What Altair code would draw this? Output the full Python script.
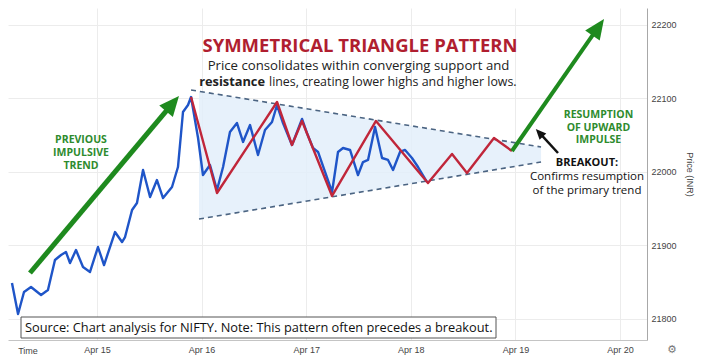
import altair as alt
import pandas as pd

# ---------------- data (x = day of April, fractional; y = price in INR) -------------
blue_day = [14.187, 14.245, 14.302, 14.369, 14.465, 14.531, 14.598, 14.656, 14.703, 14.742,
            14.799, 14.866, 14.933, 15.009, 15.067, 15.172, 15.239, 15.268, 15.335, 15.382,
            15.440, 15.507, 15.573, 15.631, 15.717, 15.774, 15.822, 15.870, 15.899, 15.966,
            16.013, 16.080, 16.147, 16.205, 16.271, 16.338, 16.396, 16.463, 16.539, 16.606,
            16.673, 16.721, 16.778, 16.864, 16.960, 17.007, 17.065, 17.113, 17.247, 17.304,
            17.352, 17.419, 17.495, 17.543, 17.591, 17.658, 17.725, 17.782, 17.830, 17.897,
            17.945, 18.011, 18.069, 18.155]
blue_price = [21848.6, 21806.4, 21836.4, 21843.2, 21832.3, 21839.1, 21879.9, 21886.7, 21890.8, 21875.8,
              21893.5, 21870.4, 21863.6, 21897.6, 21873.1, 21918.0, 21904.4, 21911.2, 21948.0, 21957.5,
              22002.5, 21965.7, 21988.8, 21964.3, 21979.3, 22006.5, 22081.4, 22090.9, 22101.8, 22046.0,
              21995.6, 22009.3, 21975.2, 22006.5, 22054.2, 22066.4, 22040.6, 22063.7, 22022.9, 22056.9,
              22067.8, 22090.9, 22066.4, 22036.5, 22071.9, 22052.8, 22032.4, 22027.0, 21972.5, 22027.0,
              22032.4, 22029.7, 21995.6, 22013.3, 22016.1, 22061.0, 22018.8, 22016.1, 22002.5, 22027.0,
              22029.7, 22018.8, 22006.5, 21986.1]

red_day = [15.899, 16.147, 16.721, 16.864, 16.960, 17.247, 17.667, 18.164, 18.394, 18.537, 18.795, 18.967]
red_price = [22101.8, 21971.1, 22095.0, 22036.5, 22069.2, 21967.1, 22069.2, 21984.8, 22024.2, 21998.4, 22046.0, 22028.3]

# converging trend lines (resistance / support)
res_day = [15.899, 19.245]
res_price = [22111.4, 22033.8]
sup_day = [15.975, 19.245]
sup_price = [21935.7, 22013.3]
# shaded triangle
tri_day = [15.975, 19.245]
tri_top = [22109.6, 22033.8]
tri_bottom = [21935.7, 22013.3]

# arrows: shaft start/end and head angle
left_arrow_day = [14.359, 15.711]
left_arrow_price = [21862.2, 22091.0]
right_arrow_day = [18.967, 19.782]
right_arrow_price = [22028.3, 22194.8]
black_arrow_day = [19.407, 19.235]
black_arrow_price = [22025.6, 22052.3]

x_ticks = [15, 16, 17, 18, 19, 20]
y_ticks = [21800, 21900, 22000, 22100, 22200]

# ---------------- styling -------------
W, H = 639, 332
XDOM = [14.149, 20.258]
YDOM = [21771, 22223]
GREEN = "#1e8a1e"
TXT_GREEN = "#2e8b2e"
RED = "#c0263a"
BLUE = "#1f55c8"
FONT = "Open Sans"
HEAD = "M0,-1L0.75,0.7L-0.75,0.7Z"

xs = alt.Scale(domain=XDOM, nice=False, zero=False)
ys = alt.Scale(domain=YDOM, nice=False, zero=False)


def xy(df_x, df_y):
    return pd.DataFrame({"d": df_x, "p": df_y})


X = alt.X("d:Q", scale=xs, title=None,
          axis=alt.Axis(values=x_ticks, labelExpr="'Apr ' + datum.value", grid=True,
                        gridColor="#ececec", domainColor="#c4c4c4", ticks=False,
                        labelPadding=5, labelFontSize=9, labelFont="Liberation Sans",
                        labelColor="#444444", labelFlush=False))
Y = alt.Y("p:Q", scale=ys, title="Price (INR)",
          axis=alt.Axis(orient="right", values=y_ticks, format="d", grid=True,
                        gridColor="#ececec", domainColor="#a8a8a8", ticks=False,
                        labelPadding=4, labelFontSize=9, labelFont="Liberation Sans",
                        labelColor="#444444", titleFontSize=9, titleFont="Liberation Sans",
                        titleFontWeight="normal", titleColor="#444444", titlePadding=8))

shade = alt.Chart(pd.DataFrame({"d": tri_day, "p": tri_top, "p2": tri_bottom})).mark_area(
    color="#e3eefa", opacity=0.85).encode(x=X, y=Y, y2="p2:Q")

res = alt.Chart(xy(res_day, res_price)).mark_line(
    color="#4b6482", strokeWidth=1.6, strokeDash=[5, 4]).encode(x="d:Q", y="p:Q")
sup = alt.Chart(xy(sup_day, sup_price)).mark_line(
    color="#4b6482", strokeWidth=1.6, strokeDash=[5, 4]).encode(x="d:Q", y="p:Q")

blue = alt.Chart(xy(blue_day, blue_price)).mark_line(
    color=BLUE, strokeWidth=2.4, strokeJoin="round").encode(x="d:Q", y="p:Q")
red = alt.Chart(xy(red_day, red_price)).mark_line(
    color=RED, strokeWidth=2.4, strokeJoin="round").encode(x="d:Q", y="p:Q")


def arrow(days, prices, color, width, angle, size):
    df = xy(days, prices)
    shaft = alt.Chart(df).mark_line(color=color, strokeWidth=width, strokeCap="butt").encode(
        x="d:Q", y="p:Q")
    head = alt.Chart(df.iloc[[1]]).mark_point(
        shape=HEAD, filled=True, color=color, opacity=1, size=size, angle=angle,
        strokeWidth=0).encode(x="d:Q", y="p:Q")
    return [shaft, head]


layers = [shade, res, sup, blue, red]
layers += arrow(left_arrow_day, left_arrow_price, GREEN, 5, 40, 560)
layers += arrow(right_arrow_day, right_arrow_price, GREEN, 4, 35, 560)
layers += arrow(black_arrow_day, black_arrow_price, "#111111", 2.5, 317, 150)

one = pd.DataFrame({"k": [0]})

# source box
layers.append(alt.Chart(one).mark_rect(fill="white", stroke="#555555", strokeWidth=1).encode(
    x=alt.value(13), x2=alt.value(488), y=alt.value(309), y2=alt.value(330)))

# text annotations: (text, x, y, size, weight, color, align)
texts = [
    ("SYMMETRICAL TRIANGLE PATTERN", 352, 38, 18.5, "bold", "#b01e30", "center"),
    ("Price consolidates within converging support and", 350.5, 57.5, 13.2, "normal", "#222222", "center"),
    ("resistance", 257, 74, 12.8, "bold", "#222222", "right"),
    ("lines, creating lower highs and higher lows.", 261, 74, 12.4, "normal", "#222222", "left"),
    ("PREVIOUS", 73, 132, 10.5, "bold", TXT_GREEN, "center"),
    ("IMPULSIVE", 73, 145, 10.5, "bold", TXT_GREEN, "center"),
    ("TREND", 73, 157.5, 10.5, "bold", TXT_GREEN, "center"),
    ("RESUMPTION", 590.5, 107, 10.5, "bold", TXT_GREEN, "center"),
    ("OF UPWARD", 590.5, 119.5, 10.5, "bold", TXT_GREEN, "center"),
    ("IMPULSE", 590.5, 132, 10.5, "bold", TXT_GREEN, "center"),
    ("BREAKOUT:", 579, 154.5, 11, "bold", "#111111", "center"),
    ("Confirms resumption", 579, 168.5, 11.5, "normal", "#111111", "center"),
    ("of the primary trend", 579, 182.5, 11.5, "normal", "#111111", "center"),
    ("Source: Chart analysis for NIFTY. Note: This pattern often precedes a breakout.",
     17, 319.5, 12.8, "normal", "#111111", "left"),
    ("Time", 20, 343, 9, "normal", "#444444", "center"),
    ("\u2699", 664, 342, 11, "normal", "#777777", "center"),
]
for t, x, y, s, w, c, a in texts:
    layers.append(alt.Chart(one).mark_text(
        text=t, fontSize=s, fontWeight=w, color=c, align=a, baseline="middle",
        font=("Liberation Sans" if t in ("Time",) else ("DejaVu Sans" if t == "\u2699" else FONT))
    ).encode(x=alt.value(x), y=alt.value(y)))

chart = alt.layer(*layers).properties(
    width=W, height=H, background="white",
    padding={"left": 0, "top": 0, "right": 4, "bottom": 4},
).configure_view(stroke=None)

chart.save("out.html", embed_options={"renderer": "svg", "actions": False})
